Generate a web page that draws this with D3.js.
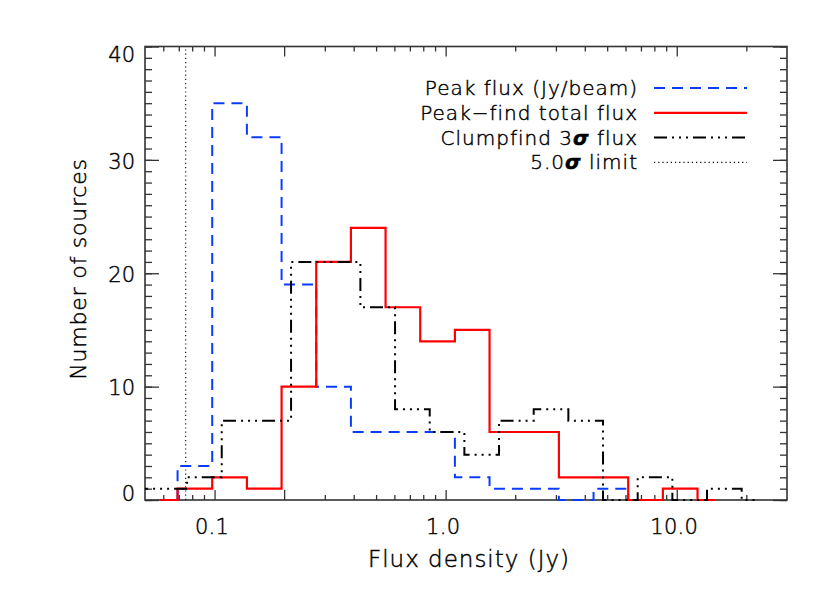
<!DOCTYPE html>
<html>
<head>
<meta charset="utf-8">
<script src="https://cdn.jsdelivr.net/npm/d3@7"></script>
<style>
  html, body { margin: 0; padding: 0; background: #fff; }
  svg { display: block; }
  text { font-family: "DejaVu Sans", sans-serif; fill: #000; font-weight: 200; stroke: #000; stroke-width: 0.45px; }
</style>
</head>
<body>
<script>
// ---------------- data ----------------
// Bin centres (Jy) of the peak-find histograms (log bins, 0.15 dex wide)
const binCentresPeak = [0.0582, 0.0822, 0.1161, 0.1641, 0.2317, 0.3273, 0.4624, 0.6531,
  0.9226, 1.303, 1.841, 2.600, 3.673, 5.188, 7.328, 10.35, 14.62];
// Peak flux (Jy/beam) counts
const peakFlux = [0, 3, 35, 32, 19, 10, 6, 6, 6, 2, 1, 1, 0, 1, 0];
// Peak-find total flux counts
const peakFindTotal = [0, 1, 2, 1, 10, 21, 24, 17, 14, 15, 6, 6, 2, 2, 0, 1, 0];
// Bin centres (Jy) of the clumpfind histogram
const binCentresClump = [0.0453, 0.0640, 0.0904, 0.1276, 0.1803, 0.2547, 0.3597, 0.5082,
  0.7178, 1.014, 1.432, 2.023, 2.858, 4.036, 5.702, 8.054, 11.38, 16.07, 22.70];
// Clumpfind 3 sigma flux counts
const clumpfind = [1, 1, 2, 7, 7, 21, 21, 17, 8, 6, 4, 7, 8, 7, 0, 2, 0, 1, 0];
// 5 sigma limit (Jy)
const sigmaLimit = 0.075;

// axis ticks
const xMajorTicks = [0.1, 0.2, 1, 10];
const xMinorTicks = [0.06, 0.07, 0.08, 0.09, 0.3, 0.4, 0.5, 0.6, 0.7, 0.8, 0.9,
  2, 3, 4, 5, 6, 7, 8, 9, 20];
const xLabelTicks = [0.1, 1, 10];
const yMajorTicks = [0, 10, 20, 30, 40];
const yMinorTicks = d3.range(0, 41, 1);

const legendLabels = ["Peak flux (Jy/beam)", "Peak\u2212find total flux", "Clumpfind 3\u03C3 flux", "5.0\u03C3 limit"];

// ---------------- drawing ----------------
const W = 830, H = 593;
const L = 145, R = 787, T = 46.5, B = 500;

const svg = d3.select("body").append("svg").attr("width", W).attr("height", H);
svg.append("rect").attr("width", W).attr("height", H).attr("fill", "#fff");

const x = d3.scaleLog().domain([0.05, 30]).range([L, R]);
const y = d3.scaleLinear().domain([0, 40]).range([B, T]);

const axisColor = "#333";
const styleAxis = g => {
  g.select(".domain").remove();
  g.selectAll(".tick line").attr("stroke", axisColor).attr("stroke-width", 1.3);
};
const styleLabels = sel => sel.attr("font-size", 21).attr("font-family", "DejaVu Sans")
  .attr("fill", "#000").attr("stroke", "#000").attr("stroke-width", 0.45).style("font-weight", 200);

// bottom axis
svg.append("g").attr("transform", `translate(0,${B})`)
  .call(d3.axisBottom(x).tickValues(xMajorTicks).tickSizeInner(-10).tickSizeOuter(0).tickFormat(""))
  .call(styleAxis);
svg.append("g").attr("transform", `translate(0,${B})`)
  .call(d3.axisBottom(x).tickValues(xMinorTicks).tickSizeInner(-5).tickSizeOuter(0).tickFormat(""))
  .call(styleAxis);
const xLab = svg.append("g").attr("transform", `translate(0,${B})`)
  .call(d3.axisBottom(x).tickValues(xLabelTicks).tickSize(0).tickPadding(19).tickFormat(d3.format(".1f")))
  .call(styleAxis);
xLab.selectAll("text").call(styleLabels).attr("dx", -3).style("letter-spacing", "0.3px");

// top axis
svg.append("g").attr("transform", `translate(0,${T})`)
  .call(d3.axisTop(x).tickValues(xMajorTicks).tickSizeInner(-10).tickSizeOuter(0).tickFormat(""))
  .call(styleAxis);
svg.append("g").attr("transform", `translate(0,${T})`)
  .call(d3.axisTop(x).tickValues(xMinorTicks).tickSizeInner(-5).tickSizeOuter(0).tickFormat(""))
  .call(styleAxis);

// left axis
svg.append("g").attr("transform", `translate(${L},0)`)
  .call(d3.axisLeft(y).tickValues(yMinorTicks).tickSizeInner(-7).tickSizeOuter(0).tickFormat(""))
  .call(styleAxis);
const yLab = svg.append("g").attr("transform", `translate(${L},0)`)
  .call(d3.axisLeft(y).tickValues(yMajorTicks).tickSizeInner(-14).tickSizeOuter(0).tickPadding(10).tickFormat(d3.format("d")))
  .call(styleAxis);
yLab.selectAll("text").call(styleLabels)
  .attr("transform", d => d === 40 ? "translate(0,8)" : d === 0 ? "translate(0,-6)" : "translate(0,1.5)");

// right axis
svg.append("g").attr("transform", `translate(${R},0)`)
  .call(d3.axisRight(y).tickValues(yMinorTicks).tickSizeInner(-7).tickSizeOuter(0).tickFormat(""))
  .call(styleAxis);
svg.append("g").attr("transform", `translate(${R},0)`)
  .call(d3.axisRight(y).tickValues(yMajorTicks).tickSizeInner(-14).tickSizeOuter(0).tickFormat(""))
  .call(styleAxis);

// frame
svg.append("rect").attr("x", L).attr("y", T).attr("width", R - L).attr("height", B - T)
  .attr("fill", "none").attr("stroke", axisColor).attr("stroke-width", 1.6);

// clip
svg.append("clipPath").attr("id", "plotclip").append("rect")
  .attr("x", L).attr("y", T - 4).attr("width", R - L).attr("height", B - T + 8);
const plot = svg.append("g").attr("clip-path", "url(#plotclip)");

// 5 sigma limit
plot.append("line")
  .attr("x1", x(sigmaLimit)).attr("x2", x(sigmaLimit))
  .attr("y1", y(0)).attr("y2", y(40))
  .attr("stroke", "#000").attr("stroke-width", 1.1).attr("stroke-dasharray", "1.2,3");

const stepLine = d3.line().x(d => x(d[0])).y(d => y(d[1])).curve(d3.curveStep);

const styles = {
  blue: { stroke: "#0a3cff", width: 2, dash: "11,7" },
  red: { stroke: "#ff0000", width: 2.2, dash: null },
  black: { stroke: "#000", width: 2, dash: "13,5,2,5,2,5,2,5" }
};

function drawHist(centres, counts, st) {
  plot.append("path")
    .datum(counts.map((c, i) => [centres[i], c]))
    .attr("d", stepLine)
    .attr("fill", "none")
    .attr("stroke", st.stroke)
    .attr("stroke-width", st.width)
    .attr("stroke-dasharray", st.dash);
}
drawHist(binCentresPeak, peakFlux, styles.blue);
drawHist(binCentresPeak, peakFindTotal, styles.red);
drawHist(binCentresClump, clumpfind, styles.black);

// axis titles
svg.append("text").attr("x", 469).attr("y", 567).attr("text-anchor", "middle")
  .attr("font-size", 23).style("letter-spacing", "1px").text("Flux density (Jy)");
svg.append("text").attr("transform", "translate(78,269) rotate(-90)").attr("text-anchor", "middle")
  .attr("dominant-baseline", "central")
  .attr("font-size", 22).style("letter-spacing", "0.8px").text("Number of sources");

// legend
const legendStyles = [styles.blue, styles.red, styles.black, { stroke: "#000", width: 1.1, dash: "1.2,3" }];
const legend = svg.append("g");
legendLabels.forEach((lab, i) => {
  const by = 95 + i * 24.8;
  const t = legend.append("text").attr("x", 638).attr("y", by).attr("text-anchor", "end")
    .attr("font-size", 20).style("letter-spacing", "1px");
  const parts = lab.split("\u03C3");
  if (parts.length > 1) {
    t.append("tspan").text(parts[0]);
    t.append("tspan").attr("font-style", "italic").style("font-weight", "bold").text("\u03C3");
    t.append("tspan").text(parts[1]);
  } else {
    t.text(lab);
  }
  const st = legendStyles[i];
  legend.append("line").attr("x1", 654).attr("x2", 747).attr("y1", by - 7).attr("y2", by - 7)
    .attr("stroke", st.stroke).attr("stroke-width", st.width).attr("stroke-dasharray", st.dash);
});
</script>
</body>
</html>
